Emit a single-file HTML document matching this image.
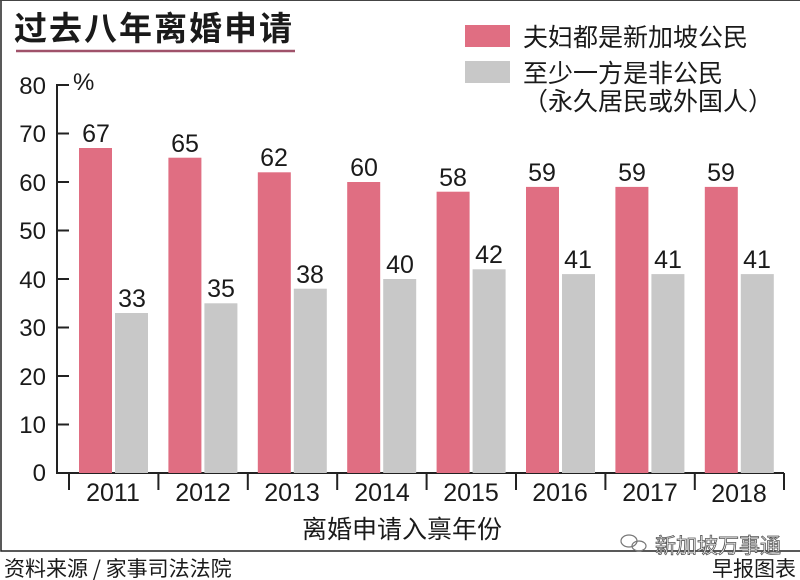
<!DOCTYPE html>
<html><head><meta charset="utf-8"><style>
body{margin:0;background:#fff;}
svg{display:block;font-family:"Liberation Sans","Noto Sans CJK SC",sans-serif;}
</style></head><body>
<svg width="800" height="580" viewBox="0 0 800 580" xmlns="http://www.w3.org/2000/svg">
<rect x="0" y="0" width="800" height="580" fill="#fff"/>
<path d="M1 0 V551 H800" fill="none" stroke="#222" stroke-width="1.5"/>
<line x1="0" y1="0.5" x2="800" y2="0.5" stroke="#444" stroke-width="1"/>
<text x="14" y="40" font-size="33" font-weight="bold" fill="#1a1a1a" font-family="'Noto Sans CJK SC',sans-serif" textLength="278">过去八年离婚申请</text>
<line x1="16" y1="51" x2="295" y2="51" stroke="#a0526a" stroke-width="2.5"/>
<rect x="465" y="25" width="45" height="22" fill="#e06e82"/>
<rect x="465" y="61" width="45" height="22" fill="#c8c8c8"/>
<g font-family="'Noto Sans CJK SC',sans-serif" font-size="25" fill="#1a1a1a">
<text x="523" y="46">夫妇都是新加坡公民</text>
<text x="523" y="82">至少一方是非公民</text>
<text x="523" y="110">（永久居民或外国人）</text>
</g>
<g stroke="#222" stroke-width="2" fill="none">
<path d="M69 85 H57 V473 H784"/>
<path d="M57 133.5H69M57 182H69M57 230.5H69M57 279H69M57 327.5H69M57 376H69M57 424.5H69"/>
<path d="M69 473V490M158.4 473V490M247.8 473V490M337.2 473V490M426.6 473V490M516 473V490M605.4 473V490M694.8 473V490M784 473V490"/>
</g>
<g font-size="24" fill="#1a1a1a" text-anchor="end">
<text x="46" y="94">80</text><text x="46" y="142">70</text><text x="46" y="191">60</text><text x="46" y="239">50</text><text x="46" y="288">40</text><text x="46" y="336">30</text><text x="46" y="385">20</text><text x="46" y="433">10</text><text x="46" y="481">0</text>
</g>
<text x="73" y="90" font-size="24" fill="#1a1a1a">%</text>
<g font-size="25" fill="#1a1a1a" text-anchor="middle">
<rect x="79" y="148" width="33" height="325" fill="#e06e82"/><rect x="115" y="313" width="33" height="160" fill="#c8c8c8"/>
<text x="96" y="142">67</text><text x="132" y="307">33</text><text x="113" y="501">2011</text>
<rect x="168.4" y="157.7" width="33" height="315.3" fill="#e06e82"/><rect x="204.4" y="303.3" width="33" height="169.7" fill="#c8c8c8"/>
<text x="185" y="152">65</text><text x="221" y="297">35</text><text x="203" y="501">2012</text>
<rect x="257.8" y="172.3" width="33" height="300.7" fill="#e06e82"/><rect x="293.8" y="288.7" width="33" height="184.3" fill="#c8c8c8"/>
<text x="274" y="166">62</text><text x="310" y="283">38</text><text x="292" y="501">2013</text>
<rect x="347.2" y="182" width="33" height="291" fill="#e06e82"/><rect x="383.2" y="279" width="33" height="194" fill="#c8c8c8"/>
<text x="364" y="176">60</text><text x="400" y="273">40</text><text x="382" y="501">2014</text>
<rect x="436.6" y="191.7" width="33" height="281.3" fill="#e06e82"/><rect x="472.6" y="269.3" width="33" height="203.7" fill="#c8c8c8"/>
<text x="453" y="186">58</text><text x="489" y="263">42</text><text x="471" y="501">2015</text>
<rect x="526" y="186.9" width="33" height="286.1" fill="#e06e82"/><rect x="562" y="274.1" width="33" height="198.9" fill="#c8c8c8"/>
<text x="542" y="181">59</text><text x="578" y="268">41</text><text x="560" y="501">2016</text>
<rect x="615.4" y="186.9" width="33" height="286.1" fill="#e06e82"/><rect x="651.4" y="274.1" width="33" height="198.9" fill="#c8c8c8"/>
<text x="632" y="181">59</text><text x="668" y="268">41</text><text x="650" y="501">2017</text>
<rect x="704.8" y="186.9" width="33" height="286.1" fill="#e06e82"/><rect x="740.8" y="274.1" width="33" height="198.9" fill="#c8c8c8"/>
<text x="721" y="181">59</text><text x="757" y="268">41</text><text x="739" y="502">2018</text>
</g>
<g font-family="'Noto Sans CJK SC',sans-serif" fill="#1a1a1a">
<text x="302" y="538" font-size="25">离婚申请入禀年份</text>
<text x="4" y="576" font-size="21">资料来源 / 家事司法法院</text>
<text x="712" y="576" font-size="21">早报图表</text>
<text x="655" y="553" font-size="21" fill="#fff" stroke="#555" stroke-width="0.8">新加坡万事通</text>
</g>
<g fill="none" stroke="#777" stroke-width="1.2"><ellipse cx="629" cy="541" rx="8" ry="6"/><ellipse cx="639" cy="546" rx="7" ry="5"/></g>
</svg>
</body></html>
